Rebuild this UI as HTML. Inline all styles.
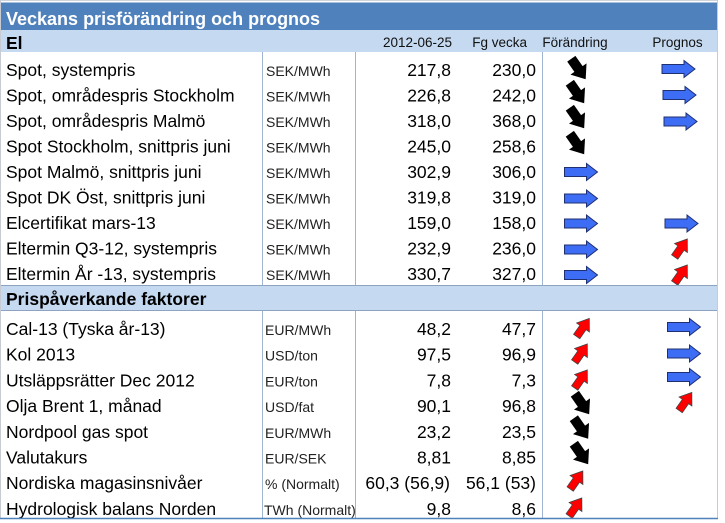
<!DOCTYPE html>
<html>
<head>
<meta charset="utf-8">
<style>
  html,body{margin:0;padding:0;background:#fff;}
  svg{display:block;}
  text{font-family:"Liberation Sans",Arial,sans-serif;}
</style>
</head>
<body>
<svg width="725" height="523" viewBox="0 0 725 523" xmlns="http://www.w3.org/2000/svg">
  <defs>
    <polygon id="blue" points="-16.5,-4.5 5.5,-4.5 5.5,-8.5 16.5,0 5.5,8.5 5.5,4.5 -16.5,4.5" fill="#3d6cf5" stroke="#1f3070" stroke-width="1"/>
    <polygon id="blk" points="-5,-12.5 5,-12.5 5,0 9.8,0 0,12.5 -9.8,0 -5,0" fill="#000" transform="rotate(-35)"/>
    <polygon id="red" points="-3.8,11 3.8,11 3.8,0 7.8,0 0,-11 -7.8,0 -3.8,0" fill="#ff0000" stroke="#444" stroke-width="0.8" transform="rotate(35)"/>
  </defs>

  <rect x="0" y="0" width="725" height="523" fill="#fff"/>
  <line x1="0" y1="0.5" x2="718" y2="0.5" stroke="#d0d4da" stroke-width="1"/>
  <line x1="0.5" y1="0" x2="0.5" y2="519" stroke="#c8ccd2" stroke-width="1"/>
  <line x1="717.5" y1="0" x2="717.5" y2="519" stroke="#c8ccd2" stroke-width="1"/>

  <rect x="1" y="2.5" width="716" height="27.5" fill="#4f81bd"/>
  <text x="6" y="25" font-size="18" font-weight="bold" fill="#fff">Veckans prisförändring och prognos</text>

  <rect x="1" y="30" width="716" height="22" fill="#c5d9f1"/>
  <text x="6" y="49" font-size="17.5" font-weight="bold" fill="#000">El</text>
  <g font-size="13.5" fill="#111">
    <text x="452" y="47" text-anchor="end">2012-06-25</text>
    <text x="527" y="47" text-anchor="end">Fg vecka</text>
    <text x="575" y="47" text-anchor="middle">Förändring</text>
    <text x="677.5" y="47" text-anchor="middle">Prognos</text>
  </g>

  <g stroke="#9fb5d2" stroke-width="1">
    <line x1="262.5" y1="52" x2="262.5" y2="285"/>
    <line x1="355.5" y1="52" x2="355.5" y2="285"/>
    <line x1="542.5" y1="52" x2="542.5" y2="285"/>
  </g>

  <g font-size="17.5" fill="#000">
    <text x="6" y="76">Spot, systempris</text>
    <text x="6" y="101.5">Spot, områdespris Stockholm</text>
    <text x="6" y="127">Spot, områdespris Malmö</text>
    <text x="6" y="152.5">Spot Stockholm, snittpris juni</text>
    <text x="6" y="178">Spot Malmö, snittpris juni</text>
    <text x="6" y="203.5">Spot DK Öst, snittpris juni</text>
    <text x="6" y="229">Elcertifikat mars-13</text>
    <text x="6" y="254.5">Eltermin Q3-12, systempris</text>
    <text x="6" y="280">Eltermin År -13, systempris</text>
  </g>
  <g font-size="14" fill="#222">
    <text x="266" y="76">SEK/MWh</text>
    <text x="266" y="101.5">SEK/MWh</text>
    <text x="266" y="127">SEK/MWh</text>
    <text x="266" y="152.5">SEK/MWh</text>
    <text x="266" y="178">SEK/MWh</text>
    <text x="266" y="203.5">SEK/MWh</text>
    <text x="266" y="229">SEK/MWh</text>
    <text x="266" y="254.5">SEK/MWh</text>
    <text x="266" y="280">SEK/MWh</text>
  </g>
  <g font-size="17.5" fill="#000" text-anchor="end">
    <text x="451" y="76">217,8</text><text x="536" y="76">230,0</text>
    <text x="451" y="101.5">226,8</text><text x="536" y="101.5">242,0</text>
    <text x="451" y="127">318,0</text><text x="536" y="127">368,0</text>
    <text x="451" y="152.5">245,0</text><text x="536" y="152.5">258,6</text>
    <text x="451" y="178">302,9</text><text x="536" y="178">306,0</text>
    <text x="451" y="203.5">319,8</text><text x="536" y="203.5">319,0</text>
    <text x="451" y="229">159,0</text><text x="536" y="229">158,0</text>
    <text x="451" y="254.5">232,9</text><text x="536" y="254.5">236,0</text>
    <text x="451" y="280">330,7</text><text x="536" y="280">327,0</text>
  </g>

  <use href="#blk" x="578.5" y="69"/>
  <use href="#blk" x="577" y="93"/>
  <use href="#blk" x="577" y="118"/>
  <use href="#blk" x="577" y="144"/>
  <use href="#blue" x="581" y="172"/>
  <use href="#blue" x="581" y="198.5"/>
  <use href="#blue" x="581" y="223.5"/>
  <use href="#blue" x="581" y="249.5"/>
  <use href="#blue" x="581" y="275"/>

  <use href="#blue" x="678.5" y="69"/>
  <use href="#blue" x="679.5" y="95"/>
  <use href="#blue" x="680.5" y="121.5"/>
  <use href="#blue" x="681.5" y="223.5"/>
  <use href="#red" x="681" y="248"/>
  <use href="#red" x="681" y="274"/>

  <rect x="1" y="285" width="716" height="25" fill="#c5d9f1"/>
  <line x1="1" y1="285.5" x2="717" y2="285.5" stroke="#8ea3c0" stroke-width="1"/>
  <line x1="1" y1="310.5" x2="717" y2="310.5" stroke="#8ea3c0" stroke-width="1"/>
  <text x="6" y="305" font-size="17.5" font-weight="bold" fill="#000">Prispåverkande faktorer</text>

  <g stroke="#9fb5d2" stroke-width="1">
    <line x1="262.5" y1="311" x2="262.5" y2="518"/>
    <line x1="355.5" y1="311" x2="355.5" y2="518"/>
    <line x1="542.5" y1="311" x2="542.5" y2="518"/>
  </g>

  <g font-size="17.5" fill="#000">
    <text x="6" y="335">Cal-13 (Tyska år-13)</text>
    <text x="6" y="360.7">Kol 2013</text>
    <text x="6" y="386.4">Utsläppsrätter Dec 2012</text>
    <text x="6" y="412.1">Olja Brent 1, månad</text>
    <text x="6" y="437.8">Nordpool gas spot</text>
    <text x="6" y="463.5">Valutakurs</text>
    <text x="6" y="489.2">Nordiska magasinsnivåer</text>
    <text x="6" y="514.9">Hydrologisk balans Norden</text>
  </g>
  <g font-size="14" fill="#222">
    <text x="265" y="335">EUR/MWh</text>
    <text x="265" y="360.7">USD/ton</text>
    <text x="265" y="386.4">EUR/ton</text>
    <text x="265" y="412.1">USD/fat</text>
    <text x="265" y="437.8">EUR/MWh</text>
    <text x="265" y="463.5">EUR/SEK</text>
    <text x="265" y="489.2">% (Normalt)</text>
    <text x="264" y="514.9">TWh (Normalt)</text>
  </g>
  <g font-size="17.5" fill="#000" text-anchor="end">
    <text x="451" y="335">48,2</text><text x="536" y="335">47,7</text>
    <text x="451" y="360.7">97,5</text><text x="536" y="360.7">96,9</text>
    <text x="451" y="386.4">7,8</text><text x="536" y="386.4">7,3</text>
    <text x="451" y="412.1">90,1</text><text x="536" y="412.1">96,8</text>
    <text x="451" y="437.8">23,2</text><text x="536" y="437.8">23,5</text>
    <text x="451" y="463.5">8,81</text><text x="536" y="463.5">8,85</text>
    <text x="450" y="489.2">60,3 (56,9)</text><text x="536" y="489.2">56,1 (53)</text>
    <text x="451" y="514.9">9,8</text><text x="536" y="514.9">8,6</text>
  </g>

  <use href="#red" x="583" y="327.5"/>
  <use href="#red" x="581" y="353"/>
  <use href="#red" x="581" y="379"/>
  <use href="#blk" x="582" y="404"/>
  <use href="#blk" x="581" y="428.5"/>
  <use href="#blk" x="581" y="454"/>
  <use href="#red" x="576.5" y="480"/>
  <use href="#red" x="575.5" y="507"/>

  <use href="#blue" x="684" y="327"/>
  <use href="#blue" x="684" y="353.5"/>
  <use href="#blue" x="684" y="377"/>
  <use href="#red" x="685.5" y="401.5"/>

  <line x1="0" y1="518.5" x2="718" y2="518.5" stroke="#4f81bd" stroke-width="1.5"/>
</svg>
</body>
</html>
